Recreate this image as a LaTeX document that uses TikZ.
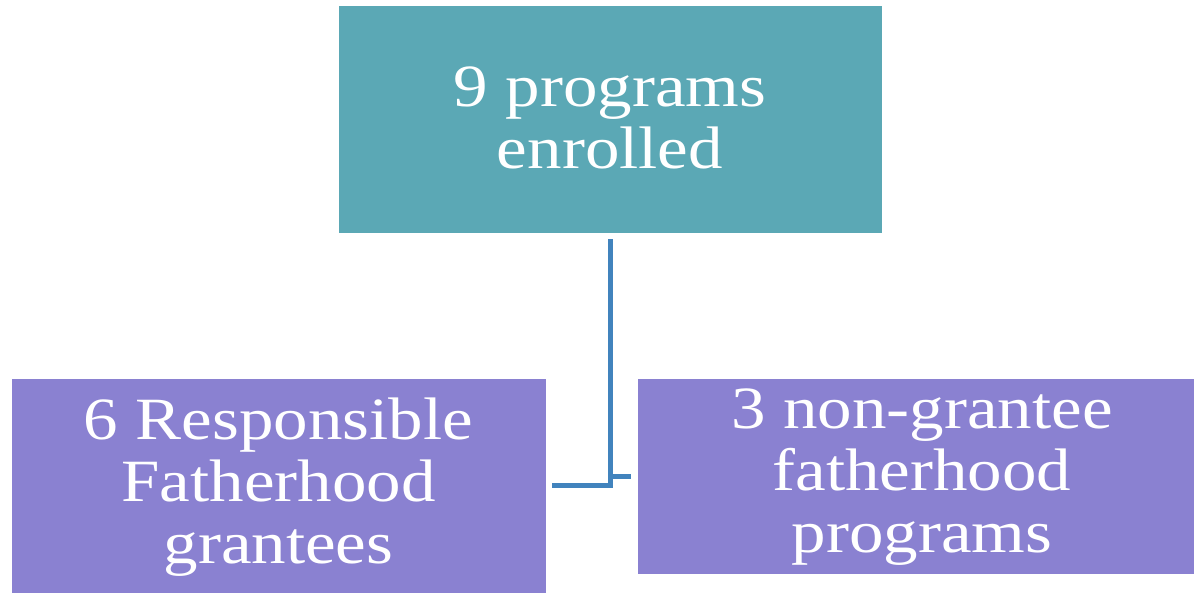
\documentclass[tikz,border=0pt]{standalone}
\usepackage{fontspec}
\setmainfont{Liberation Serif}[FakeStretch=1.15]
\definecolor{teal1}{HTML}{5BA8B5}
\definecolor{purp}{HTML}{8A81D1}
\definecolor{conn}{HTML}{4183BD}
\begin{document}
\begin{tikzpicture}[x=1pt,y=-1pt,
  box/.style={draw=white, line width=0.8pt, inner sep=0pt},
  label/.style={font=\fontsize{60}{62}\selectfont, text=white, align=center, inner sep=0pt},
  link/.style={draw=conn, line width=5pt}]
\useasboundingbox (0,0) rectangle (1194,592);
\fill[white] (0,0) rectangle (1194,592);
\node[box, fill=teal1, minimum width=544pt, minimum height=228pt] (top) at (610,119) {};
\node[label] (toptxt) at (610,118) {9 programs\\enrolled};
\node[box, fill=purp, minimum width=535pt, minimum height=228pt] (left) at (278.5,492) {};
\node[label] (lefttxt) at (278.5,487) {6 Responsible\\Fatherhood\\grantees};
\node[box, fill=purp, minimum width=557pt, minimum height=196pt] (right) at (915.5,476) {};
\node[label] (righttxt) at (922,477) {3 non-grantee\\fatherhood\\programs};
\coordinate (j) at (610,485);
\draw[link] ([yshift=-6pt]top.south -| j) -- (j) -- ([xshift=6pt]left.east |- j);
\draw[link] (610,476) -- ([xshift=-6pt]right.west |- 610,476);
\end{tikzpicture}
\end{document}
